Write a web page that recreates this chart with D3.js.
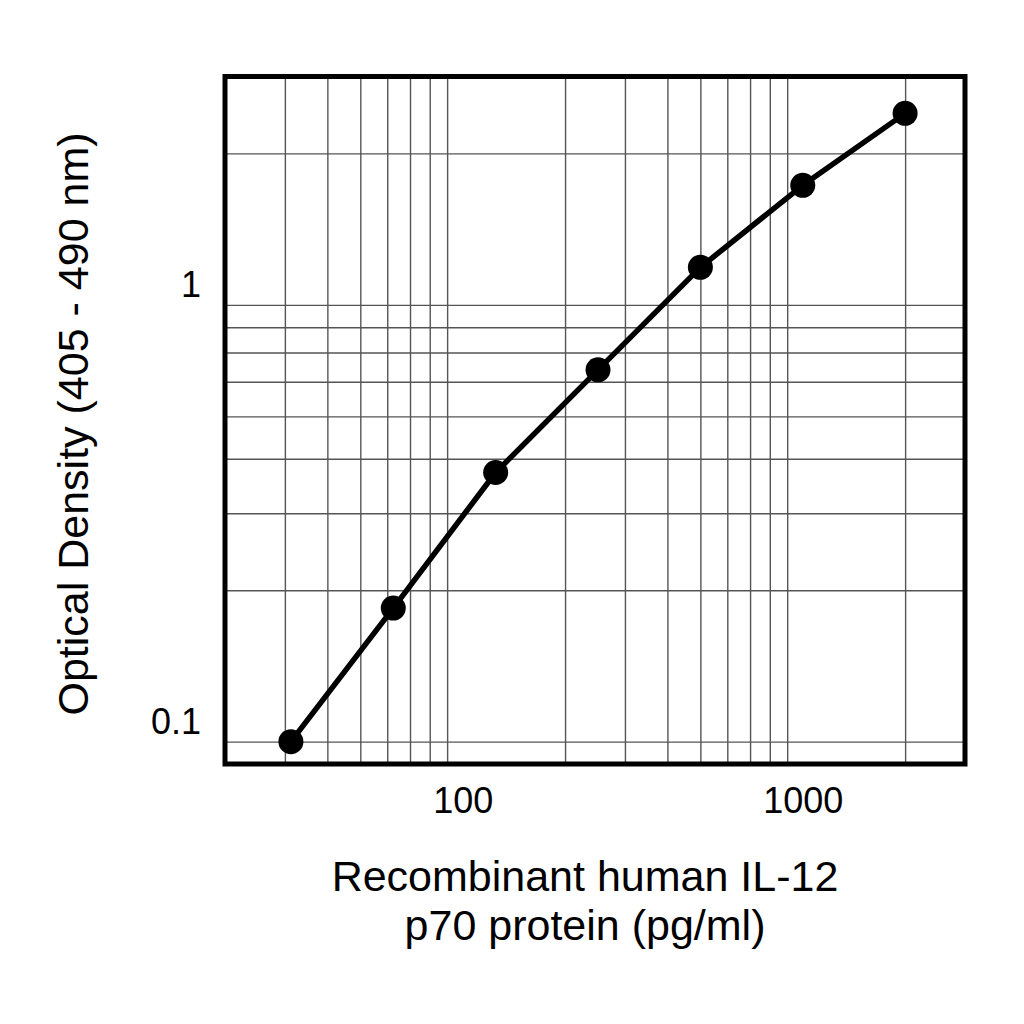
<!DOCTYPE html>
<html>
<head>
<meta charset="utf-8">
<script src="https://cdn.jsdelivr.net/npm/d3@7"></script>
<style>
  html, body { margin: 0; padding: 0; background: #fff; }
  svg { display: block; }
  text { font-family: "Liberation Sans", Arial, Helvetica, sans-serif; fill: #000; }
</style>
</head>
<body>
<svg id="chart" width="1024" height="1024"></svg>
<script>
// ---- data ----
const concentrations = [31.25, 62.5, 125, 250, 500, 1000, 2000];
const opticalDensity = [0.09, 0.182, 0.372, 0.639, 1.097, 1.69, 2.47];
const xTickValues = [100, 1000];
const xTickLabels = ["100", "1000"];
const yTickValues = [0.1, 1];
const yTickLabels = ["0.1", "1"];
const xGridValues = [30, 40, 50, 60, 70, 80, 90, 200, 300, 400, 500, 600, 700, 800, 900, 2000];
const yGridValues = [0.09, 0.2, 0.3, 0.4, 0.5, 0.6, 0.7, 0.8, 0.9, 2];
const xTitleLines = ["Recombinant human IL-12", "p70 protein (pg/ml)"];
const yTitle = "Optical Density (405 - 490 nm)";

// ---- layout ----
const plotL = 225, plotR = 965, plotT = 76.5, plotB = 764;
const svg = d3.select("#chart");

const x = d3.scaleLog().domain([20, 3000]).range([plotL, plotR]);
const y = d3.scaleLog().domain([0.08, 3]).range([plotB, plotT]);

// gridlines
const gx = svg.append("g")
  .attr("transform", `translate(0,${plotB})`)
  .call(d3.axisBottom(x).tickValues(xGridValues).tickSize(-(plotB - plotT)).tickFormat(""));
gx.select(".domain").remove();
gx.selectAll("line").attr("stroke", "#555").attr("stroke-width", 1.4);

const gy = svg.append("g")
  .attr("transform", `translate(${plotL},0)`)
  .call(d3.axisLeft(y).tickValues(yGridValues).tickSize(-(plotR - plotL)).tickFormat(""));
gy.select(".domain").remove();
gy.selectAll("line").attr("stroke", "#555").attr("stroke-width", 1.4);

// tick labels
const ax = svg.append("g")
  .attr("transform", `translate(0,${plotB})`)
  .call(d3.axisBottom(x).tickValues(xTickValues)
    .tickFormat((d, i) => xTickLabels[i]).tickSize(0).tickPadding(23));
ax.select(".domain").remove();
ax.selectAll("text").attr("font-size", 36).attr("font-family", "Liberation Sans, Arial, sans-serif").attr("fill", "#000");

const ay = svg.append("g")
  .attr("transform", `translate(${plotL},0)`)
  .call(d3.axisLeft(y).tickValues(yTickValues)
    .tickFormat((d, i) => yTickLabels[i]).tickSize(0).tickPadding(24));
ay.select(".domain").remove();
ay.selectAll("text").attr("font-size", 36).attr("font-family", "Liberation Sans, Arial, sans-serif").attr("fill", "#000");

// frame
svg.append("rect")
  .attr("x", plotL).attr("y", plotT)
  .attr("width", plotR - plotL).attr("height", plotB - plotT)
  .attr("fill", "none").attr("stroke", "#000").attr("stroke-width", 5);

// data line
const pts = concentrations.map((c, i) => [c, opticalDensity[i]]);
svg.append("path")
  .datum(pts)
  .attr("fill", "none")
  .attr("stroke", "#000")
  .attr("stroke-width", 5.5)
  .attr("stroke-linejoin", "round")
  .attr("d", d3.line().x(d => x(d[0])).y(d => y(d[1])));

svg.append("g").selectAll("circle")
  .data(pts)
  .join("circle")
  .attr("cx", d => x(d[0]))
  .attr("cy", d => y(d[1]))
  .attr("r", 12.5)
  .attr("fill", "#000");

// axis titles
const xt = svg.append("text")
  .attr("text-anchor", "middle")
  .attr("font-size", 43);
xTitleLines.forEach((t, i) => {
  xt.append("tspan").attr("x", 585).attr("y", 891 + i * 49).text(t);
});

svg.append("text")
  .attr("text-anchor", "middle")
  .attr("font-size", 43)
  .attr("transform", "translate(88,424) rotate(-90)")
  .text(yTitle);
</script>
</body>
</html>
